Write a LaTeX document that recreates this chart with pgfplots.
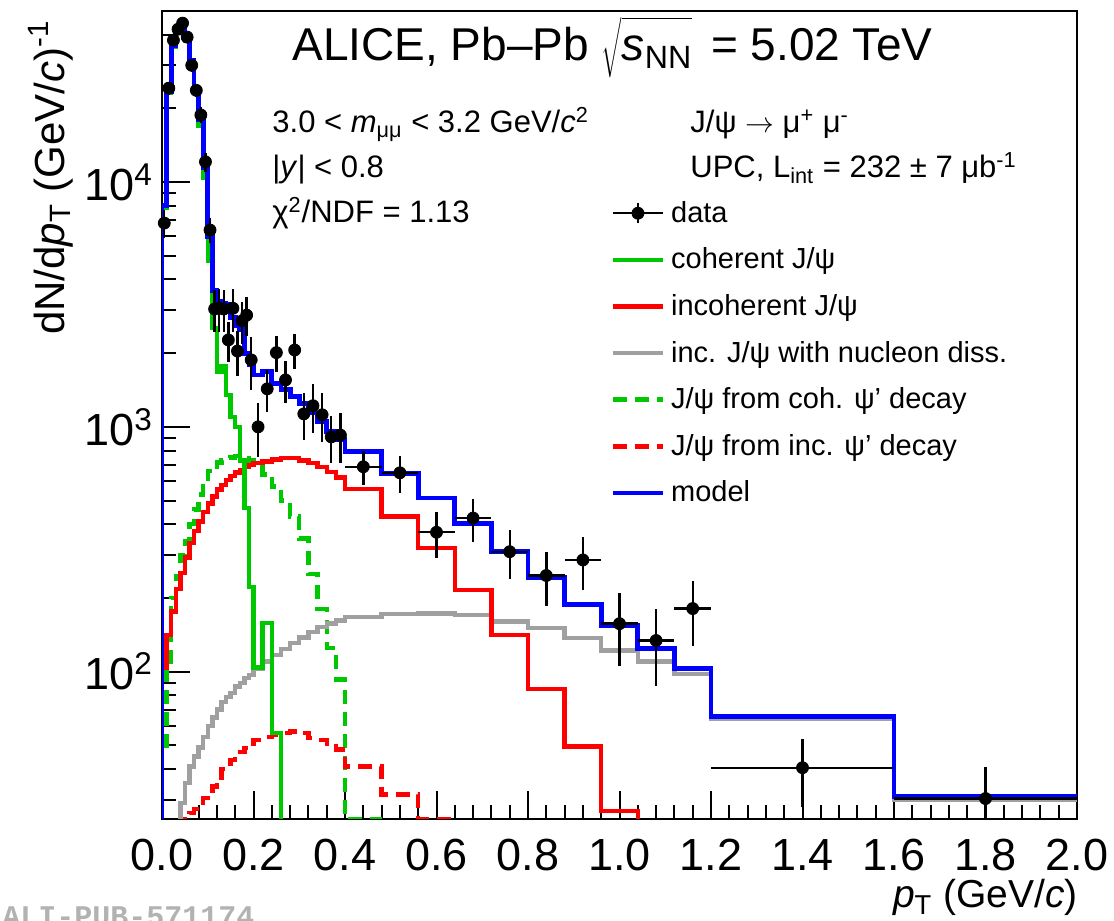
\documentclass[border=0pt]{standalone}
\usepackage{fontspec}
\setmainfont{Liberation Sans}
\newfontfamily\monofont{Liberation Mono}
\usepackage{pgfplots}
\usepackage{pgfplotstable}
\pgfplotsset{compat=1.18}
\definecolor{rgreen}{RGB}{0,200,0}
\definecolor{rred}{RGB}{255,0,0}
\definecolor{rblue}{RGB}{0,0,255}
\definecolor{rgray}{RGB}{160,160,160}
\newcommand{\pr}{\symbol{39}}

\pgfplotstableread{
x ex y ey
0.005 0.005 6800 900
0.015 0.005 24200 1500
0.025 0.005 38000 1900
0.035 0.005 42100 2000
0.045 0.005 44600 2100
0.055 0.005 39100 2000
0.065 0.005 30000 1700
0.075 0.005 23700 1500
0.085 0.005 18800 1400
0.095 0.005 12100 1100
0.105 0.005 6370 750
0.115 0.005 3030 600
0.125 0.005 3050 600
0.135 0.005 3030 600
0.145 0.005 2265 420
0.155 0.005 3050 600
0.165 0.005 2040 420
0.175 0.005 2710 520
0.185 0.005 2860 520
0.195 0.005 1877 460
0.21 0.01 1000 250
0.23 0.01 1430 285
0.25 0.01 2010 330
0.27 0.01 1555 300
0.29 0.01 2060 330
0.31 0.01 1130 250
0.33 0.01 1220 275
0.35 0.01 1120 255
0.37 0.01 910 195
0.39 0.01 925 210
0.44 0.04 687 110
0.52 0.04 649 110
0.60 0.04 371 80
0.68 0.04 424 85
0.76 0.04 309 70
0.84 0.04 247 62
0.92 0.04 286 70
1.00 0.04 157 52
1.08 0.04 134 47
1.16 0.04 181 54
1.40 0.2 40.5 12.6
1.80 0.2 30.3 10.5
}\datatab

\pgfplotstableread{
x y
0 1
0 8000
0.01 23500
0.02 36000
0.03 41500
0.04 42500
0.05 38500
0.06 31500
0.07 24000
0.08 18000
0.09 11500
0.10 6000
0.11 3600
0.12 3250
0.13 3200
0.14 3150
0.15 2800
0.16 2600
0.17 2500
0.18 2000
0.19 1800
0.20 1630
0.22 1680
0.24 1506
0.26 1420
0.28 1330
0.30 1250
0.32 1140
0.34 1050
0.36 960
0.38 885
0.40 793
0.48 643
0.56 512
0.64 404
0.72 310
0.80 243
0.88 188
0.96 154
1.04 124
1.12 103
1.20 65.7
1.60 30.8
2.00 30.8
}\modeltab

\pgfplotstableread{
x y
0 1
0 7850
0.01 23250
0.02 35600
0.03 41000
0.04 41900
0.05 37800
0.06 30700
0.07 23100
0.08 17000
0.09 10400
0.10 4760
0.11 2540
0.12 1680
0.13 1770
0.14 1350
0.15 1100
0.16 1000
0.17 730
0.18 467
0.19 222
0.20 104
0.22 158
0.24 56
0.26 56
0.26 1
}\cohtab

\pgfplotstableread{
x y
0 1
0 104
0.01 141
0.02 176
0.03 218
0.04 253
0.05 293
0.06 335
0.07 375
0.08 410
0.09 450
0.10 487
0.11 520
0.12 555
0.13 580
0.14 608
0.15 630
0.16 650
0.17 665
0.18 685
0.19 700
0.20 713
0.22 723
0.24 735
0.26 745
0.28 745
0.30 730
0.32 710
0.34 685
0.36 655
0.38 620
0.40 557
0.48 430
0.56 320
0.64 215
0.72 141
0.80 85
0.88 49.5
0.96 27
1.04 27
1.04 1
}\inctab

\pgfplotstableread{
x y
0.04 1
0.04 29
0.05 35
0.06 41
0.07 45
0.08 49
0.09 54
0.10 60
0.11 65
0.12 70
0.13 75
0.14 79
0.15 82
0.16 87
0.17 90
0.18 94
0.19 97
0.20 103
0.22 110
0.24 117
0.26 124
0.28 131
0.30 138
0.32 145
0.34 152
0.36 157
0.38 162
0.40 167
0.48 172
0.56 173
0.64 170
0.72 160
0.80 151
0.88 137
0.96 122
1.04 110
1.12 98
1.20 64
1.60 30
2.00 30
}\disstab

\pgfplotstableread{
x y
0 1
0 50
0.01 105
0.02 200
0.03 245
0.04 300
0.05 340
0.06 400
0.07 460
0.08 530
0.09 600
0.10 660
0.11 690
0.12 715
0.13 730
0.14 745
0.15 750
0.16 760
0.17 755
0.18 745
0.19 730
0.20 700
0.22 640
0.24 570
0.26 500
0.28 430
0.30 350
0.32 250
0.34 180
0.36 125
0.38 93
0.40 25
0.48 25
}\cohpsitab

\pgfplotstableread{
x y
0.05 1
0.05 25.5
0.06 26.5
0.07 27.5
0.08 29
0.09 30.5
0.10 32
0.11 34
0.12 37
0.13 40
0.14 42
0.15 43.5
0.16 45
0.17 47
0.18 48.7
0.19 49.5
0.20 52.7
0.22 54
0.24 55.3
0.26 56
0.28 57
0.30 56
0.32 53.5
0.34 52.7
0.36 49.5
0.38 48
0.40 41
0.48 31.5
0.56 25
0.64 25
}\incpsitab

\begin{document}
\begin{tikzpicture}
\path[use as bounding box] (0pt,0pt) rectangle (557pt,460.5pt);
\begin{axis}[
  at={(81pt,51pt)}, anchor=south west,
  scale only axis, width=457.5pt, height=404pt,
  xmin=0, xmax=2, ymode=log, ymin=25, ymax=50000,
  axis line style={line width=1pt},
  tick pos=left, tick align=inside,
  major tick length=14pt, minor tick length=7pt,
  every tick/.style={black, line width=1pt},
  xtick={0,0.2,0.4,0.6,0.8,1.0,1.2,1.4,1.6,1.8,2.0},
  xticklabels={0.0,0.2,0.4,0.6,0.8,1.0,1.2,1.4,1.6,1.8,2.0},
  minor x tick num=4,
  ytick={100,1000,10000},
  yticklabels={10\textsuperscript{2},10\textsuperscript{3},10\textsuperscript{4}},
  minor ytick={30,40,50,60,70,80,90,200,300,400,500,600,700,800,900,2000,3000,4000,5000,6000,7000,8000,9000,20000,30000,40000},
  ticklabel style={font=\fontsize{22.5}{26}\selectfont},
  xticklabel style={yshift=-6.5pt},
  yticklabel style={xshift=-1pt},
  legend image code/.code={\draw[#1] (0pt,0pt) -- (25pt,0pt);},
  legend style={at={(0.49,0.77)}, anchor=north west, draw=none, fill=none,
    font=\fontsize{14.5}{17}\selectfont, row sep=7.3pt, inner sep=0pt,
    /tikz/every odd column/.append style={column sep=1pt}},
  legend cell align=left,
]
\addplot[const plot, rgreen, line width=2.2pt, dash pattern=on 7pt off 4pt, forget plot] table[x=x,y=y] {\cohpsitab};
\addplot[const plot, rred, line width=2.2pt, dash pattern=on 7pt off 4pt, forget plot] table[x=x,y=y] {\incpsitab};
\addplot[const plot, rgray, line width=2.2pt, forget plot] table[x=x,y=y] {\disstab};
\addplot[const plot, rred, line width=2.2pt, forget plot] table[x=x,y=y] {\inctab};
\addplot[const plot, rgreen, line width=2.2pt, forget plot] table[x=x,y=y] {\cohtab};
\addplot[const plot, rblue, line width=2.4pt, forget plot] table[x=x,y=y] {\modeltab};
\addplot[only marks, mark=*, mark size=3pt, black, forget plot,
  error bars/.cd, x dir=both, x explicit, y dir=both, y explicit,
  error mark=none, error bar style={line width=1.2pt, black}]
  table[x=x, y=y, x error=ex, y error=ey] {\datatab};
\addlegendimage{legend image code/.code={\draw[black,line width=1.2pt] (0pt,0pt) -- (25pt,0pt); \draw[black,line width=1.2pt] (12.5pt,-5pt) -- (12.5pt,5pt); \fill[black] (12.5pt,0pt) circle (3pt);}}
\addlegendimage{rgreen, line width=2.2pt}
\addlegendimage{rred, line width=2.2pt}
\addlegendimage{rgray, line width=2.2pt}
\addlegendimage{rgreen, line width=2.2pt, dash pattern=on 7pt off 4pt}
\addlegendimage{rred, line width=2.2pt, dash pattern=on 7pt off 4pt}
\addlegendimage{rblue, line width=2.2pt}
\legend{data, coherent J/ψ, incoherent J/ψ, inc. J/ψ with nucleon diss., J/ψ from coh. ψ\pr{} decay, J/ψ from inc. ψ\pr{} decay, model}
\end{axis}
\begin{scope}[shift={(0pt,460.5pt)}, x=0.5pt, y=-0.5pt]
\node[anchor=base west, inner sep=0pt, font=\fontsize{23}{27}\selectfont] at (292,61) {ALICE, Pb--Pb $\sqrt{\vphantom{\big|}\mbox{\itshape s\upshape\textsubscript{NN}}}$\hspace{3pt} = 5.02 TeV};
\begin{scope}[every node/.style={anchor=base west, inner sep=0pt, font=\fontsize{15.5}{18}\selectfont}]
\node at (272,133) {3.0 < \textit{m}\textsubscript{μμ} < 3.2 GeV/\textit{c}\textsuperscript{2}};
\node at (272,178) {|\textit{y}| < 0.8};
\node at (272,223) {χ\textsuperscript{2}/NDF = 1.13};
\node at (690,133) {J/ψ $\rightarrow$ μ\textsuperscript{+} μ\textsuperscript{-}};
\node at (690,178) {UPC, L\textsubscript{int} = 232 ± 7 μb\textsuperscript{-1}};
\end{scope}
\node[rotate=90, anchor=base east, inner sep=0pt, font=\fontsize{21}{25}\selectfont] at (64,20) {dN/d\textit{p}\textsubscript{T} (GeV/\textit{c})\textsuperscript{-1}};
\node[anchor=base east, inner sep=0pt, font=\fontsize{19.5}{23}\selectfont] at (1078,908) {\textit{p}\textsubscript{T} (GeV/\textit{c})};
\node[anchor=base west, inner sep=0pt, text=black!30, font=\monofont\bfseries\fontsize{15}{15}\selectfont] at (2,927) {ALI-PUB-571174};
\end{scope}
\end{tikzpicture}
\end{document}
